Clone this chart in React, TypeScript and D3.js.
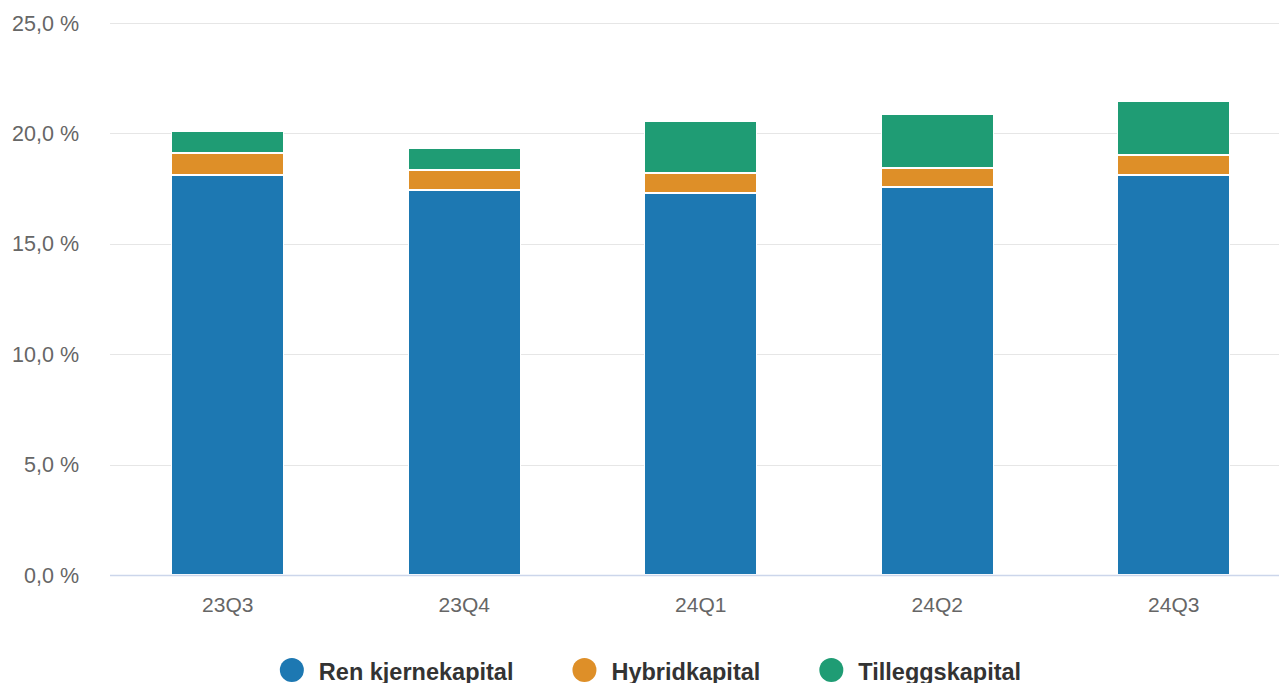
import React, { useEffect, useRef } from "react";
import * as d3 from "d3";

const categories = ["23Q3", "23Q4", "24Q1", "24Q2", "24Q3"];
const renKjernekapital = [18.1, 17.45, 17.3, 17.55, 18.1];
const hybridkapital = [1.0, 0.9, 0.9, 0.9, 0.9];
const tilleggskapital = [1.0, 1.0, 2.35, 2.45, 2.45];
const seriesNames = ["Ren kjernekapital", "Hybridkapital", "Tilleggskapital"];
const seriesColors = ["#1d78b2", "#de8f28", "#1f9c74"];
const yTicks = [0, 5, 10, 15, 20, 25];

export default function App() {
  const ref = useRef<SVGSVGElement | null>(null);
  useEffect(() => {
    const svg = d3.select(ref.current);
    svg.selectAll("*").remove();
    const left = 110, right = 1279, top = 23, bottom = 575;
    const x = d3.scaleBand<string>().domain(categories).range([109.5, 1292]).paddingInner(0).paddingOuter(0);
    const y = d3.scaleLinear().domain([0, 25]).range([bottom, top]);
    const font = "'Liberation Sans', Arial, sans-serif";

    svg.append("g").selectAll("line").data(yTicks.filter(t => t > 0)).join("line")
      .attr("x1", left).attr("x2", right)
      .attr("y1", d => Math.round(y(d)) + 0.5).attr("y2", d => Math.round(y(d)) + 0.5)
      .attr("stroke", "#e6e6e6").attr("stroke-width", 1);

    svg.append("g").selectAll("text").data(yTicks).join("text")
      .attr("x", 79).attr("y", d => y(d) + 7.5)
      .attr("text-anchor", "end").attr("font-family", font).attr("font-size", 21.5)
      .attr("fill", "#666666")
      .text(d => d3.format(".1f")(d).replace(".", ",") + " %");

    const stackData = categories.map((c, i) => ({ c, a: renKjernekapital[i], b: hybridkapital[i], t: tilleggskapital[i] }));
    const stack = d3.stack<any>().keys(["a", "b", "t"])(stackData);
    const bw = 113;
    stack.forEach((layer, si) => {
      svg.append("g").selectAll("rect").data(layer).join("rect")
        .attr("x", d => Math.round(x(d.data.c)! + x.bandwidth() / 2 - bw / 2) + 0.5)
        .attr("width", bw - 1)
        .attr("y", d => Math.round(y(d[1])) + 0.5)
        .attr("height", d => Math.round(y(d[0])) - Math.round(y(d[1])) - 1)
        .attr("fill", seriesColors[si])
        .attr("stroke", "#ffffff").attr("stroke-width", 1);
    });

    svg.append("line").attr("x1", left).attr("x2", right)
      .attr("y1", bottom + 0.5).attr("y2", bottom + 0.5)
      .attr("stroke", "#ccd6eb").attr("stroke-width", 1.5);

    svg.append("g").selectAll("text").data(categories).join("text")
      .attr("x", d => x(d)! + x.bandwidth() / 2).attr("y", 612)
      .attr("text-anchor", "middle").attr("font-family", font).attr("font-size", 21)
      .attr("fill", "#666666").text(d => d);

    const lg = svg.append("g");
    const items = seriesNames.map((n, i) => {
      const g = lg.append("g");
      g.append("circle").attr("cx", 12).attr("cy", 0).attr("r", 12).attr("fill", seriesColors[i]);
      const t = g.append("text").attr("x", 39).attr("y", 9.5)
        .attr("font-family", font).attr("font-size", 23.5).attr("font-weight", "bold")
        .attr("fill", "#333333").text(n);
      const w = 39 + (t.node() as SVGTextElement).getComputedTextLength();
      return { g, w };
    });
    const gap = 59;
    const total = d3.sum(items, d => d.w) + gap * (items.length - 1);
    let cx = 650.5 - total / 2;
    items.forEach(it => {
      it.g.attr("transform", `translate(${cx},670)`);
      cx += it.w + gap;
    });
  }, []);
  return (
    <svg ref={ref} width={1279} height={683}
      style={{ position: "absolute", left: 0, top: 0, display: "block", background: "#fff" }} />
  );
}
